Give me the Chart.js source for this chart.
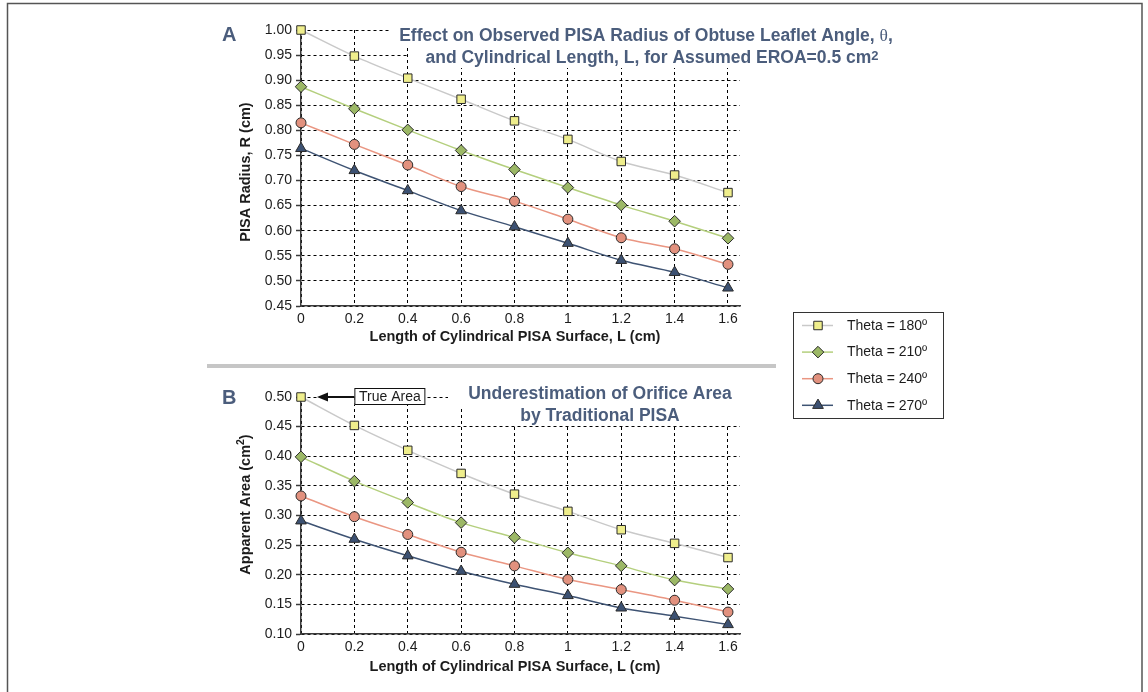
<!DOCTYPE html>
<html>
<head>
<meta charset="utf-8">
<script src="https://cdn.jsdelivr.net/npm/chart.js@4.4.1/dist/chart.umd.min.js"></script>
<style>
  html, body { margin: 0; padding: 0; background: #ffffff; }
  #wrap { position: relative; width: 1148px; height: 692px; overflow: hidden; background: #ffffff; }
  #wrap canvas { position: absolute; left: 0; top: 0; }
</style>
</head>
<body>
<div id="wrap">
  <canvas id="panelA" width="1148" height="692"></canvas>
  <canvas id="panelB" width="1148" height="692"></canvas>
</div>
<script>
// ---- data ----
const lengths = [0, 0.2, 0.4, 0.6, 0.8, 1.0, 1.2, 1.4, 1.6];
const seriesNames = ['Theta = 180º', 'Theta = 210º', 'Theta = 240º', 'Theta = 270º'];

// Panel A: observed PISA radius R (cm)
const radius180 = [1.000, 0.948, 0.904, 0.862, 0.819, 0.782, 0.738, 0.711, 0.676];
const radius210 = [0.887, 0.843, 0.801, 0.760, 0.722, 0.686, 0.651, 0.619, 0.585];
const radius240 = [0.815, 0.772, 0.731, 0.688, 0.659, 0.623, 0.586, 0.564, 0.533];
const radius270 = [0.764, 0.720, 0.680, 0.640, 0.608, 0.575, 0.541, 0.517, 0.486];

// Panel B: apparent area (cm²)
const area180 = [0.500, 0.452, 0.410, 0.371, 0.336, 0.307, 0.276, 0.253, 0.229];
const area210 = [0.399, 0.358, 0.322, 0.288, 0.263, 0.237, 0.215, 0.191, 0.176];
const area240 = [0.333, 0.298, 0.268, 0.238, 0.215, 0.192, 0.175, 0.157, 0.137];
const area270 = [0.291, 0.260, 0.232, 0.206, 0.184, 0.165, 0.144, 0.130, 0.116];

const xTickValues = [0, 0.2, 0.4, 0.6, 0.8, 1.0, 1.2, 1.4, 1.6];
const radiusTicks = [0.45, 0.50, 0.55, 0.60, 0.65, 0.70, 0.75, 0.80, 0.85, 0.90, 0.95, 1.00];
const areaTicks = [0.10, 0.15, 0.20, 0.25, 0.30, 0.35, 0.40, 0.45, 0.50];
const trueArea = 0.5;

// ---- look ----
const FONT = "'Liberation Sans', Arial, Helvetica, sans-serif";
const SERIF = "'Liberation Serif', 'Times New Roman', serif";
const INK = '#1c1c1c';
const HEAD = '#4b5d7c';
const W = 1148, H = 692;
const PLOT_LEFT = 301, PLOT_RIGHT = 740;
const Y_AXIS_W = 60, X_AXIS_H = 44;
const X_MAX = 1.645;

const seriesStyle = [
  { line: '#c9c9c9', fill: '#efee8c', shape: 'rect',     r: 6 },
  { line: '#b4cf7d', fill: '#9cb866', shape: 'rectRot',  r: 5.8 },
  { line: '#ea9682', fill: '#e2917e', shape: 'circle',   r: 5 },
  { line: '#3e5373', fill: '#3c5172', shape: 'triangle', r: 6.2 }
];

Chart.defaults.font.family = FONT;
Chart.defaults.color = INK;

function buildDatasets(valueSets) {
  return valueSets.map((vals, i) => {
    const s = seriesStyle[i];
    return {
      label: seriesNames[i],
      data: lengths.map((x, j) => ({ x: x, y: vals[j] })),
      borderColor: s.line,
      backgroundColor: s.fill,
      borderWidth: 1.5,
      pointStyle: s.shape,
      pointRadius: s.r,
      pointBackgroundColor: s.fill,
      pointBorderColor: '#2b2b2b',
      pointBorderWidth: 1,
      cubicInterpolationMode: 'monotone',
      fill: false,
      clip: false
    };
  });
}

function drawRuns(ctx, runs, x, y, align) {
  let total = 0;
  runs.forEach(r => { ctx.font = r.font; r.w = ctx.measureText(r.text).width; total += r.w; });
  let cx = align === 'center' ? x - total / 2 : (align === 'right' ? x - total : x);
  ctx.textAlign = 'left';
  runs.forEach(r => { ctx.font = r.font; ctx.fillText(r.text, cx, y + (r.dy || 0)); cx += r.w; });
}

function drawVerticalRuns(ctx, runs, cx, cy) {
  ctx.save();
  ctx.translate(cx, cy);
  ctx.rotate(-Math.PI / 2);
  ctx.textBaseline = 'middle';
  drawRuns(ctx, runs, 0, 0, 'center');
  ctx.restore();
}

function makePanel(canvasId, valueSets, yTicks, yMin, yMax, plotTop, plotBottom, decor) {
  const axisBorder = { display: true, color: '#3a3a3a', width: 1.5, dash: [3, 3] };
  return new Chart(document.getElementById(canvasId), {
    type: 'line',
    data: { datasets: buildDatasets(valueSets) },
    options: {
      responsive: false,
      animation: false,
      devicePixelRatio: 1,
      events: [],
      layout: {
        padding: {
          left: PLOT_LEFT - Y_AXIS_W,
          right: W - PLOT_RIGHT,
          top: plotTop,
          bottom: H - plotBottom - X_AXIS_H
        }
      },
      plugins: { legend: { display: false }, tooltip: { enabled: false } },
      scales: {
        x: {
          type: 'linear', min: 0, max: X_MAX,
          afterBuildTicks: s => { s.ticks = xTickValues.map(v => ({ value: v })); },
          afterFit: s => { s.height = X_AXIS_H; },
          grid: { color: '#000000', lineWidth: 1, drawTicks: false },
          border: axisBorder,
          ticks: { padding: 5, color: INK, font: { size: 14 }, maxRotation: 0, autoSkip: false,
                   callback: v => String(v) }
        },
        y: {
          type: 'linear', min: yMin, max: yMax,
          afterBuildTicks: s => { s.ticks = yTicks.map(v => ({ value: v })); },
          afterFit: s => { s.width = Y_AXIS_W; },
          grid: { color: '#000000', lineWidth: 1, drawTicks: true, tickLength: 5,
                  tickBorderDash: [], tickColor: '#3a3a3a', tickWidth: 1.5 },
          border: axisBorder,
          ticks: { padding: 4, color: INK, font: { size: 14 }, autoSkip: false,
                   callback: v => Number(v).toFixed(2) }
        }
      }
    },
    plugins: [decor]
  });
}

const BOLD_AXIS = 'bold 14.5px ' + FONT;
const BOLD_HEAD = 'bold 17.5px ' + FONT;

// ---- panel A ----
const decorA = {
  id: 'decorA',
  beforeDatasetsDraw(chart) {
    const ctx = chart.ctx;
    ctx.save();
    ctx.fillStyle = '#ffffff';
    ctx.fillRect(390, 12, 520, 33);   // heading line 1 backdrop
    ctx.fillRect(409, 45, 500, 23);   // heading line 2 backdrop
    ctx.restore();
  },
  afterDraw(chart) {
    const ctx = chart.ctx;
    const area = chart.chartArea;
    ctx.save();
    ctx.fillStyle = HEAD;
    ctx.textBaseline = 'alphabetic';
    ctx.font = 'bold 20px ' + FONT;
    ctx.textAlign = 'left';
    ctx.fillText('A', 222, 41);
    drawRuns(ctx, [
      { text: 'Effect on Observed PISA Radius of Obtuse Leaflet Angle, ', font: BOLD_HEAD },
      { text: 'θ', font: '17.5px ' + SERIF },
      { text: ',', font: BOLD_HEAD }
    ], 646, 41, 'center');
    drawRuns(ctx, [
      { text: 'and Cylindrical Length, L, for Assumed EROA=0.5 cm', font: BOLD_HEAD },
      { text: '2', font: 'bold 13px ' + FONT, dy: -3 }
    ], 652, 63, 'center');

    ctx.fillStyle = INK;
    ctx.textBaseline = 'middle';
    drawRuns(ctx, [{ text: 'Length of Cylindrical PISA Surface, L (cm)', font: BOLD_AXIS }],
      515, area.bottom + 31, 'center');
    drawVerticalRuns(ctx, [{ text: 'PISA Radius, R (cm)', font: BOLD_AXIS }],
      246, (area.top + area.bottom) / 2 + 4);
    ctx.restore();
  }
};

// ---- panel B ----
const decorB = {
  id: 'decorB',
  beforeDatasetsDraw(chart) {
    const ctx = chart.ctx;
    const xs = chart.scales.x, ys = chart.scales.y;
    ctx.save();
    ctx.fillStyle = '#ffffff';
    ctx.fillRect(448, 378, 300, 28);  // heading line 1 backdrop
    ctx.fillRect(470, 406, 278, 20);  // heading line 2 backdrop

    // "True Area" callout pointing at the exact-area point
    const py = ys.getPixelForValue(trueArea);
    const px = xs.getPixelForValue(0);
    const boxL = xs.getPixelForValue(0.2), boxR = boxL + 71;
    ctx.fillRect(boxL, py - 9, boxR - boxL, 17);
    ctx.strokeStyle = '#111111';
    ctx.lineWidth = 1;
    ctx.strokeRect(boxL + 0.5, py - 8.5, boxR - boxL - 1, 16);
    ctx.fillStyle = INK;
    ctx.font = '14px ' + FONT;
    ctx.textAlign = 'center';
    ctx.textBaseline = 'middle';
    ctx.fillText('True Area', (boxL + boxR) / 2, py + 0.5);
    const tip = px + 16;
    ctx.lineWidth = 2;
    ctx.beginPath();
    ctx.moveTo(boxL, py);
    ctx.lineTo(tip + 8, py);
    ctx.stroke();
    ctx.beginPath();
    ctx.moveTo(tip, py);
    ctx.lineTo(tip + 11, py - 4.5);
    ctx.lineTo(tip + 11, py + 4.5);
    ctx.closePath();
    ctx.fillStyle = '#111111';
    ctx.fill();
    ctx.restore();
  },
  afterDraw(chart) {
    const ctx = chart.ctx;
    const area = chart.chartArea;
    ctx.save();

    // outer frame
    ctx.strokeStyle = '#555555';
    ctx.lineWidth = 1.5;
    ctx.strokeRect(7.5, 3.5, 1134.5, 710);

    // divider between the panels
    ctx.strokeStyle = '#c6c6c6';
    ctx.lineWidth = 4;
    ctx.beginPath();
    ctx.moveTo(207, 366);
    ctx.lineTo(776, 366);
    ctx.stroke();

    ctx.fillStyle = HEAD;
    ctx.textBaseline = 'alphabetic';
    ctx.font = 'bold 20px ' + FONT;
    ctx.textAlign = 'left';
    ctx.fillText('B', 222, 404);
    drawRuns(ctx, [{ text: 'Underestimation of Orifice Area', font: BOLD_HEAD }], 600, 399, 'center');
    drawRuns(ctx, [{ text: 'by Traditional PISA', font: BOLD_HEAD }], 600, 421, 'center');

    ctx.fillStyle = INK;
    ctx.textBaseline = 'middle';
    drawRuns(ctx, [{ text: 'Length of Cylindrical PISA Surface, L (cm)', font: BOLD_AXIS }],
      515, area.bottom + 33, 'center');
    drawVerticalRuns(ctx, [
      { text: 'Apparent Area (cm', font: BOLD_AXIS },
      { text: '2', font: 'bold 10.5px ' + FONT, dy: -5 },
      { text: ')', font: BOLD_AXIS }
    ], 246, (area.top + area.bottom) / 2 - 11);

    // legend
    const lx = 793, ly = 312, lw = 150, lh = 106;
    ctx.fillStyle = '#ffffff';
    ctx.fillRect(lx, ly, lw, lh);
    ctx.strokeStyle = '#333333';
    ctx.lineWidth = 1;
    ctx.strokeRect(lx + 0.5, ly + 0.5, lw, lh);
    chart.data.datasets.forEach((ds, i) => {
      const s = seriesStyle[i];
      const y = ly + 13.5 + i * 26.6;
      ctx.strokeStyle = s.line;
      ctx.lineWidth = 1.5;
      ctx.beginPath();
      ctx.moveTo(lx + 9, y);
      ctx.lineTo(lx + 40, y);
      ctx.stroke();
      ctx.fillStyle = s.fill;
      ctx.strokeStyle = '#2b2b2b';
      ctx.lineWidth = 1;
      Chart.helpers.drawPoint(ctx, { pointStyle: s.shape, radius: s.r, rotation: 0, borderWidth: 1 },
        lx + 25, y);
      ctx.fillStyle = INK;
      ctx.font = '14px ' + FONT;
      ctx.textAlign = 'left';
      ctx.textBaseline = 'middle';
      ctx.fillText(ds.label, lx + 54, y + 0.5);
    });
    ctx.restore();
  }
};

makePanel('panelA', [radius180, radius210, radius240, radius270], radiusTicks, 0.45, 1.00, 30, 306, decorA);
makePanel('panelB', [area180, area210, area240, area270], areaTicks, 0.10, 0.50, 397, 634, decorB);
</script>
</body>
</html>
